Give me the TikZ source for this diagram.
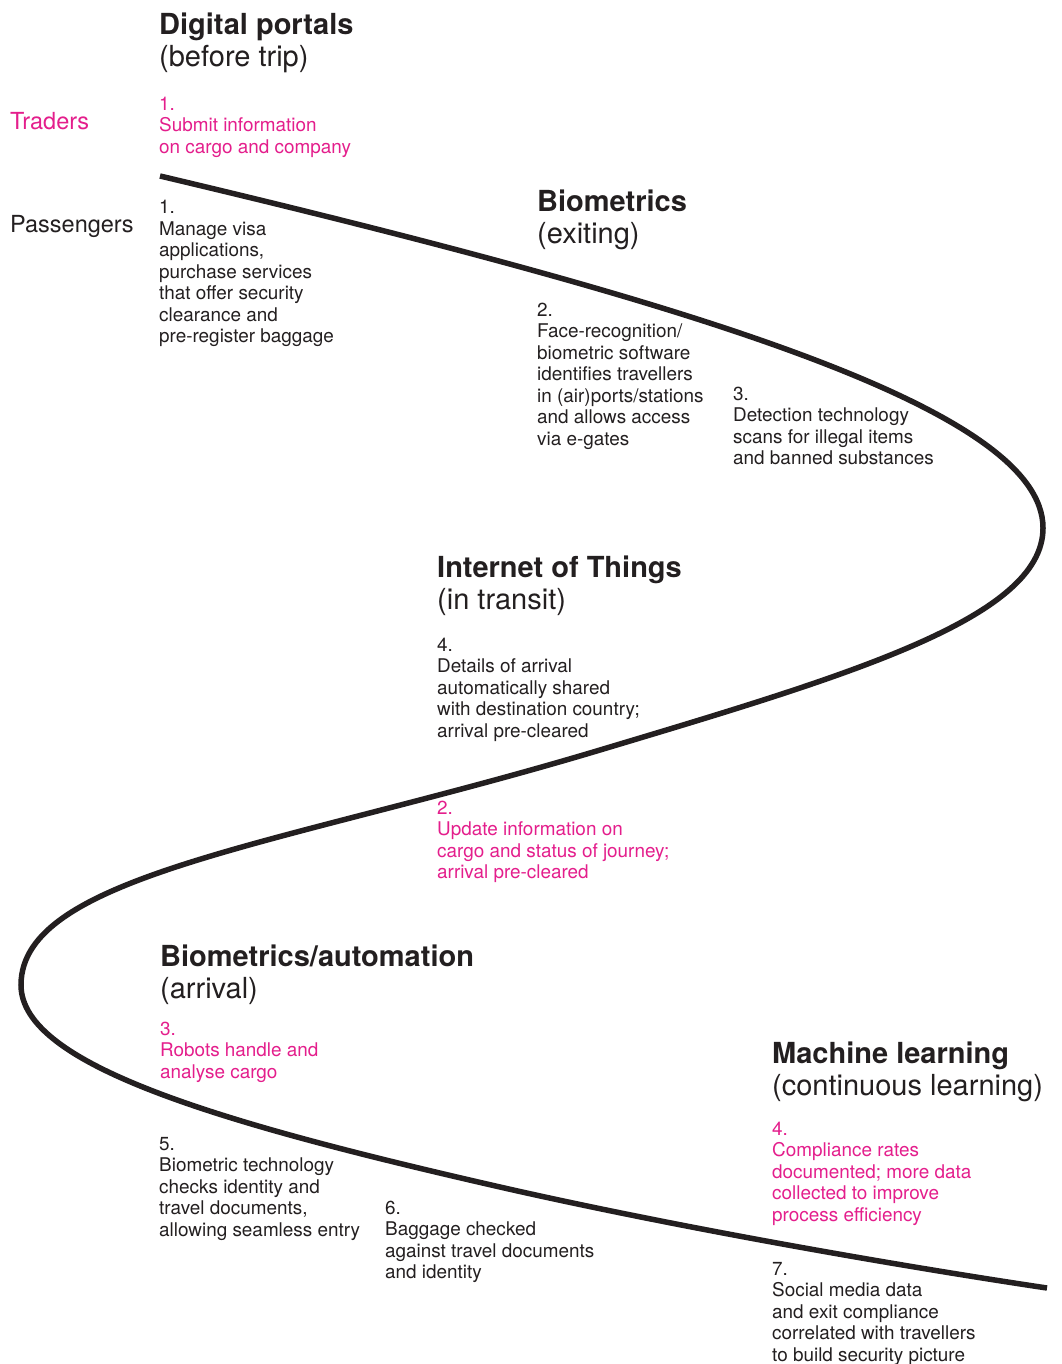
\documentclass[tikz,border=0pt]{standalone}
\usepackage{fontspec}
\setmainfont{TeX Gyre Heros}
\definecolor{ink}{HTML}{231F20}
\definecolor{trade}{RGB}{228,30,140}
\newcommand\bodystrut{\rule{0pt}{15pt}}
\newcommand\headstrut{\rule{0pt}{24pt}}
\tikzset{
  curve/.style={draw=ink, line width=5.5pt},
  body/.style={anchor=north west, inner sep=0pt, align=left, text=ink,
    font=\fontsize{18.9}{21.5}\selectfont},
  cargo/.style={body, text=trade},
  heading/.style={anchor=north west, inner sep=0pt, align=left, text=ink,
    font=\fontsize{29}{32}\selectfont},
  group/.style={anchor=base west, inner sep=0pt, text=ink,
    font=\fontsize{23.5}{26}\selectfont},
}
\begin{document}
\begin{tikzpicture}[x=1pt, y=-1pt]
\useasboundingbox[fill=white] (0,0) rectangle (1061,1364);

% the journey line
\draw[curve] (160,176) .. controls (700,304) and (1043,410) .. (1043,528)
  .. controls (1043,618) and (850,675) .. (600,750)
  .. controls (280,846) and (21,875) .. (21,985)
  .. controls (21,1065) and (220,1123) .. (500,1187)
  .. controls (680,1228) and (900,1266) .. (1047,1288);

% row labels
\node[group, text=trade] (traders) at (10,130) {Traders};
\node[group] (passengers) at (10,233) {Passengers};

% stage headings
\node[heading] (h1) at (159,34.5-24) {{\bfseries\headstrut Digital portals}\\(before trip)};
\node[heading] (h2) at (537,211.5-24) {{\bfseries\headstrut Biometrics}\\(exiting)};
\node[heading] (h3) at (437,577.5-24) {{\bfseries\headstrut Internet of Things}\\(in transit)};
\node[heading] (h4) at (160,966.5-24) {{\bfseries\headstrut Biometrics/automation}\\(arrival)};
\node[heading] (h5) at (772,1063.5-24) {{\bfseries\headstrut Machine learning}\\(continuous learning)};

% cargo steps
\node[cargo] (c1) at (159,110-15) {\bodystrut 1.\\Submit information\\on cargo and company};
\node[cargo] (c2) at (437,814-15) {\bodystrut 2.\\Update information on\\cargo and status of journey;\\arrival pre-cleared};
\node[cargo] (c3) at (160,1035-15) {\bodystrut 3.\\Robots handle and\\analyse cargo};
\node[cargo] (c4) at (772,1135-15) {\bodystrut 4.\\Compliance rates\\documented; more data\\collected to improve\\process efficiency};

% passenger steps
\node[body] (p1) at (159,213.5-15) {\bodystrut 1.\\Manage visa\\applications,\\purchase services\\that offer security\\clearance and\\pre-register baggage};
\node[body] (p2) at (537,316-15) {\bodystrut 2.\\Face-recognition/\\biometric software\\identifies travellers\\in (air)ports/stations\\and allows access\\via e-gates};
\node[body] (p3) at (733,400-15) {\bodystrut 3.\\Detection technology\\scans for illegal items\\and banned substances};
\node[body] (p4) at (437,651-15) {\bodystrut 4.\\Details of arrival\\automatically shared\\with destination country;\\arrival pre-cleared};
\node[body] (p5) at (159,1150-15) {\bodystrut 5.\\Biometric technology\\checks identity and\\travel documents,\\allowing seamless entry};
\node[body] (p6) at (385,1214-15) {\bodystrut 6.\\Baggage checked\\against travel documents\\and identity};
\node[body] (p7) at (772,1275-15) {\bodystrut 7.\\Social media data\\and exit compliance\\correlated with travellers\\to build security picture};
\end{tikzpicture}
\end{document}
